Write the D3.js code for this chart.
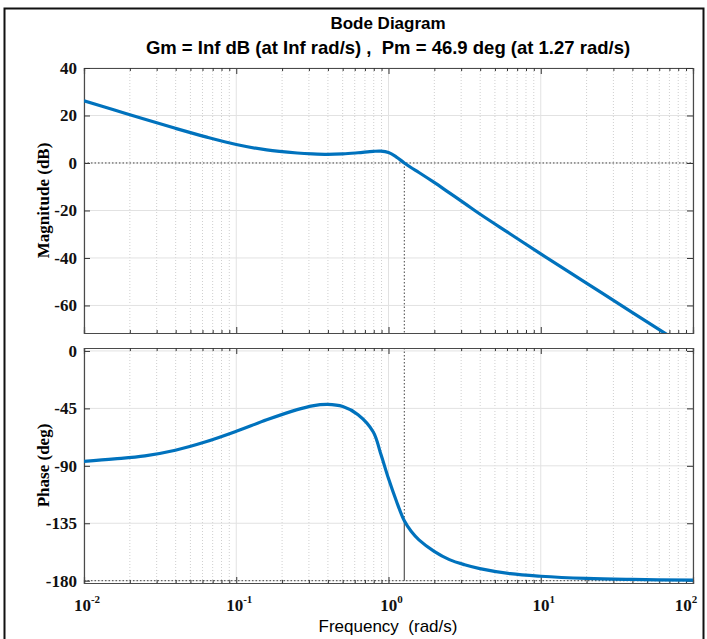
<!DOCTYPE html>
<html>
<head>
<meta charset="utf-8">
<script src="https://cdn.jsdelivr.net/npm/d3@7"></script>
<style>
body { margin: 0; background: #fff; }
</style>
</head>
<body>
<div id="container"></div>
<script>
let w = 707;
let h = 639;

// frequency exponents (log10 rad/s)
let freqExp = [-2, -1.8, -1.6, -1.4, -1.2, -1.0, -0.8, -0.6, -0.5, -0.4, -0.3, -0.2, -0.1, -0.05,
  0, 0.05, 0.104, 0.15, 0.2, 0.3, 0.4, 0.5, 0.6, 0.8, 1.0, 1.3, 1.6, 2.0];
let magDb = [26.2, 22.3, 18.4, 14.6, 11.0, 7.8, 5.5, 4.2, 3.8, 3.6, 3.8, 4.3, 4.9, 5.0,
  4.4, 2.6, 0, -2.0, -4.0, -8.2, -12.6, -17.0, -21.5, -29.9, -38.3, -50.6, -62.9, -79.2];
let phaseDeg = [-86.5, -84.6, -82.2, -77.8, -71.2, -63, -54, -46, -43, -41.9, -43.6, -50, -63.5, -81,
  -100, -117, -133.1, -141.5, -148, -157, -163.5, -167.5, -170.5, -174.5, -176.5, -178.2, -179, -179.6];

let magTicks = [40, 20, 0, -20, -40, -60];
let phaseTicks = [0, -45, -90, -135, -180];
let decades = [-2, -1, 0, 1, 2];

let wc = 1.27;      // crossover freq
let pm = 46.9;      // phase margin

let titleText = "Bode Diagram";
let subtitleText = "Gm = Inf dB (at Inf rad/s) ,  Pm = 46.9 deg (at 1.27 rad/s)";

let blue = "#0072BD";
let serif = "'Liberation Serif','Times New Roman',serif";
let sans = "'Liberation Sans',Arial,sans-serif";

let viz = d3.select("#container")
  .append("svg")
  .attr("width", w)
  .attr("height", h)
  .style("background-color", "white");

// outer frame
viz.append("rect")
  .attr("x", 4.5).attr("y", 8.5)
  .attr("width", 699).attr("height", 640)
  .attr("fill", "none").attr("stroke", "#111").attr("stroke-width", 2);

let left = 84, right = 693;
let xScale = d3.scaleLog().domain([0.01, 100]).range([left, right]);
let magScale = d3.scaleLinear().domain([-71.6, 40]).range([333, 68]);
let phScale = d3.scaleLinear().domain([-181.8, 2.3]).range([583, 348]);

let data = freqExp.map(function(e, i){
  return {w: Math.pow(10, e), mag: magDb[i], ph: phaseDeg[i]};
});

// minor freq values
let minors = [];
for (let d = -2; d < 2; d++) {
  for (let k = 2; k <= 9; k++) minors.push(k * Math.pow(10, d));
}
let majors = decades.map(function(d){ return Math.pow(10, d); });

function drawPanel(yScale, ticks, name) {
  let g = viz.append("g").attr("class", name);
  let y0 = yScale.range()[0], y1 = yScale.range()[1];

  // minor grid (dotted)
  g.selectAll(".mgrid").data(minors).enter().append("line")
    .attr("x1", d => xScale(d)).attr("x2", d => xScale(d))
    .attr("y1", y1).attr("y2", y0)
    .attr("stroke", "#cfcfcf").attr("stroke-width", 1)
    .attr("stroke-dasharray", "1,2");
  // major grid
  g.selectAll(".xgrid").data(majors).enter().append("line")
    .attr("x1", d => xScale(d)).attr("x2", d => xScale(d))
    .attr("y1", y1).attr("y2", y0)
    .attr("stroke", "#e2e2e2").attr("stroke-width", 1);
  g.selectAll(".ygrid").data(ticks).enter().append("line")
    .attr("x1", left).attr("x2", right)
    .attr("y1", d => yScale(d)).attr("y2", d => yScale(d))
    .attr("stroke", "#e2e2e2").attr("stroke-width", 1);

  // axes with inward ticks
  let xb = g.append("g").attr("transform", "translate(0," + y0 + ")")
    .call(d3.axisBottom(xScale).tickValues(majors).tickSize(-6).tickFormat(""));
  let xb2 = g.append("g").attr("transform", "translate(0," + y0 + ")")
    .call(d3.axisBottom(xScale).tickValues(minors).tickSize(-3).tickFormat(""));
  let xt = g.append("g").attr("transform", "translate(0," + y1 + ")")
    .call(d3.axisTop(xScale).tickValues(majors).tickSize(-6).tickFormat(""));
  let xt2 = g.append("g").attr("transform", "translate(0," + y1 + ")")
    .call(d3.axisTop(xScale).tickValues(minors).tickSize(-3).tickFormat(""));
  let yl = g.append("g").attr("transform", "translate(" + left + ",0)")
    .call(d3.axisLeft(yScale).tickValues(ticks).tickSize(-6).tickPadding(7)
      .tickFormat(d => String(d)));
  let yr = g.append("g").attr("transform", "translate(" + right + ",0)")
    .call(d3.axisRight(yScale).tickValues(ticks).tickSize(-6).tickFormat(""));

  [xb, xb2, xt, xt2, yl, yr].forEach(function(a){
    a.selectAll("path").attr("stroke", "#4a4a4a").attr("stroke-width", 1.2);
    a.selectAll("line").attr("stroke", "#333");
  });
  yl.selectAll("text")
    .style("font-family", serif).style("font-weight", "bold")
    .style("font-size", "17px").attr("fill", "#111");

  // clip
  let clipId = "clip-" + name;
  viz.append("clipPath").attr("id", clipId).append("rect")
    .attr("x", left).attr("y", y1).attr("width", right - left).attr("height", y0 - y1);
  return {g: g, clip: "url(#" + clipId + ")"};
}

// ---- magnitude panel
let magPanel = drawPanel(magScale, magTicks, "mag");
magPanel.g.append("line")
  .attr("x1", left).attr("x2", right)
  .attr("y1", magScale(0)).attr("y2", magScale(0))
  .attr("stroke", "#444").attr("stroke-dasharray", "1.5,2");
magPanel.g.append("line")
  .attr("x1", xScale(wc)).attr("x2", xScale(wc))
  .attr("y1", magScale(0)).attr("y2", magScale.range()[0])
  .attr("stroke", "#444").attr("stroke-dasharray", "1.5,2");

let magLine = d3.line()
  .x(d => xScale(d.w)).y(d => magScale(d.mag))
  .curve(d3.curveCatmullRom.alpha(0.5));
magPanel.g.append("path").datum(data)
  .attr("d", magLine)
  .attr("clip-path", magPanel.clip)
  .attr("fill", "none").attr("stroke", blue).attr("stroke-width", 3.2);

// ---- phase panel
let phPanel = drawPanel(phScale, phaseTicks, "phase");
phPanel.g.append("line")
  .attr("x1", left).attr("x2", right)
  .attr("y1", phScale(-180)).attr("y2", phScale(-180))
  .attr("stroke", "#444").attr("stroke-dasharray", "1.5,2");
phPanel.g.append("line")
  .attr("x1", xScale(wc)).attr("x2", xScale(wc))
  .attr("y1", phScale.range()[1]).attr("y2", phScale(-180 + pm))
  .attr("stroke", "#444").attr("stroke-dasharray", "1.5,2");
phPanel.g.append("line")
  .attr("x1", xScale(wc)).attr("x2", xScale(wc))
  .attr("y1", phScale(-180 + pm)).attr("y2", phScale(-180))
  .attr("stroke", "#555").attr("stroke-width", 1.2);

let phLine = d3.line()
  .x(d => xScale(d.w)).y(d => phScale(d.ph))
  .curve(d3.curveCatmullRom.alpha(0.5));
phPanel.g.append("path").datum(data)
  .attr("d", phLine)
  .attr("clip-path", phPanel.clip)
  .attr("fill", "none").attr("stroke", blue).attr("stroke-width", 3.2);

// x tick labels 10^n
let xl = viz.append("g").selectAll("text").data(decades).enter().append("text")
  .attr("x", d => Math.min(xScale(Math.pow(10, d)) + 3, 686))
  .attr("y", 611)
  .attr("text-anchor", "middle")
  .style("font-family", serif).style("font-weight", "bold").style("font-size", "17px")
  .attr("fill", "#111");
xl.append("tspan").text("10");
xl.append("tspan").attr("dy", -8).style("font-size", "11px").text(d => d);

// titles
viz.append("text").attr("x", 388).attr("y", 29).attr("text-anchor", "middle")
  .style("font-family", sans).style("font-weight", "bold").style("font-size", "17px")
  .text(titleText);
viz.append("text").attr("x", 388).attr("y", 54).attr("text-anchor", "middle")
  .style("font-family", sans).style("font-weight", "bold").style("font-size", "18.5px")
  .style("white-space", "pre")
  .text(subtitleText);

viz.append("text").attr("x", 388).attr("y", 632).attr("text-anchor", "middle")
  .style("font-family", sans).style("font-size", "17px")
  .style("white-space", "pre")
  .text("Frequency  (rad/s)");

viz.append("text")
  .attr("transform", "translate(49," + (68 + 333) / 2 + ") rotate(-90)")
  .attr("text-anchor", "middle")
  .style("font-family", serif).style("font-weight", "bold").style("font-size", "17px")
  .text("Magnitude (dB)");
viz.append("text")
  .attr("transform", "translate(49," + (348 + 583) / 2 + ") rotate(-90)")
  .attr("text-anchor", "middle")
  .style("font-family", serif).style("font-weight", "bold").style("font-size", "17px")
  .text("Phase (deg)");
</script>
</body>
</html>
